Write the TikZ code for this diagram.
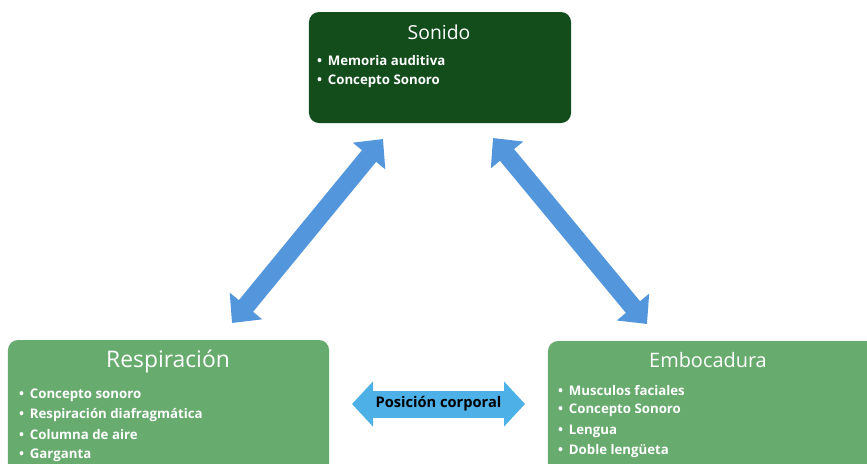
\documentclass[tikz,border=0pt]{standalone}
\usepackage{fontspec}
\setmainfont{Open Sans}
\usetikzlibrary{arrows.meta,positioning}
\definecolor{darkgreen}{RGB}{19,77,28}
\definecolor{softgreen}{RGB}{104,171,110}
\definecolor{linkblue}{RGB}{83,150,219}
\definecolor{barblue}{RGB}{77,176,230}
\tikzset{
  box/.style={rounded corners=0.3cm, inner sep=0pt},
  title/.style={text=white, inner sep=0pt},
  item/.style={text=white, font=\bfseries\fontsize{11.3}{13}\selectfont, anchor=west, inner sep=0pt},
  link/.style={linkblue, line width=0.55cm, {Triangle[length=0.66cm,width=1.22cm]}-{Triangle[length=0.66cm,width=1.22cm]}},
}
\newcommand\bul[1]{•\hspace{0.17cm}#1}
\begin{document}
\begin{tikzpicture}[x=0.03cm,y=-0.03cm]
\clip (0,0) rectangle (867,463);
% Boxes
\node[box, fill=darkgreen, minimum width=7.86cm, minimum height=3.33cm] (sonido) at (440,67.5) {};
\node[box, fill=softgreen, minimum width=9.63cm, minimum height=4.5cm] (resp) at (168.5,415) {};
\node[box, fill=softgreen, minimum width=10.26cm, minimum height=4.5cm] (emboc) at (719,416) {};
% Titles
\node[title, font=\fontsize{16.5}{19}\selectfont] (sonidoT) at (439,32) {Sonido};
\node[title, font=\fontsize{19.5}{22}\selectfont] (respT) at (168,361) {Respiración};
\node[title, font=\fontsize{17}{20}\selectfont] (embocT) at (708,360) {Embocadura};
% Bullet lists
\foreach \t [count=\i] in {Memoria auditiva, Concepto Sonoro}
  \node[item] (sonido\i) at (317,41+20*\i) {\bul{\t}};
\foreach \t [count=\i] in {Concepto sonoro, Respiración diafragmática, Columna de aire, Garganta}
  \node[item] (resp\i) at (19,375+20*\i) {\bul{\t}};
\foreach \t [count=\i] in {Musculos faciales, Concepto Sonoro, Lengua, Doble lengüeta}
  \node[item] (emboc\i) at (558,370+20.3*\i) {\bul{\t}};
% Arrow ends
\coordinate (l1) at (232,323);
\coordinate (l2) at (383,139);
\coordinate (r1) at (493,138);
\coordinate (r2) at (647,324);
\coordinate (h1) at (352,404);
\coordinate (h2) at (525,404);
% Links
\draw[link] (l1) -- (l2);
\draw[link] (r1) -- (r2);
\draw[barblue, line width=0.81cm, {Triangle[length=0.63cm,width=1.32cm]}-{Triangle[length=0.63cm,width=1.32cm]}] (h1) -- node[text=black, font=\bfseries\fontsize{12.5}{14}\selectfont] (pos) {Posición corporal} (h2);
\end{tikzpicture}
\end{document}
